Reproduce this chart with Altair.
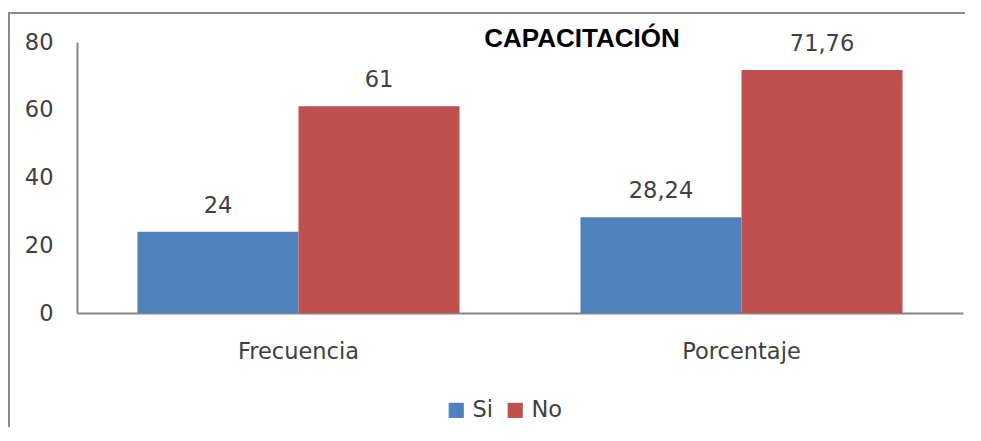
import altair as alt
import pandas as pd

categorias = ["Frecuencia", "Porcentaje"]
series = ["Si", "No"]
valores_si = [24, 28.24]
valores_no = [61, 71.76]
colores = ["#4F81BD", "#C0504D"]
titulo = "CAPACITACIÓN"
y_ticks = [0, 20, 40, 60, 80]

rows = []
for i, c in enumerate(categorias):
    for s, vals in zip(series, [valores_si, valores_no]):
        v = vals[i]
        rows.append({"categoria": c, "serie": s, "valor": v,
                     "etiqueta": f"{v:g}".replace(".", ",")})
df = pd.DataFrame(rows)

FONT = "DejaVu Sans"
FS = 22.5
W, H = 886, 271

base = alt.Chart(df).encode(
    x=alt.X("categoria:N", sort=categorias, title=None,
            scale=alt.Scale(paddingInner=0.273, paddingOuter=0.1365),
            axis=alt.Axis(labelAngle=0, labelPadding=27, ticks=False,
                          domainColor="#868686", domainWidth=2,
                          labelFontSize=FS, labelFont=FONT, labelColor="#404040")),
    xOffset=alt.XOffset("serie:N", sort=series),
)

bars = base.mark_bar().encode(
    y=alt.Y("valor:Q", title=None,
            scale=alt.Scale(domain=[0, 80], nice=False),
            axis=alt.Axis(values=y_ticks, ticks=False, grid=False, labelPadding=24,
                          domainColor="#868686", domainWidth=2,
                          labelFontSize=FS, labelFont=FONT, labelColor="#404040")),
    color=alt.Color("serie:N", sort=series,
                    scale=alt.Scale(domain=series, range=colores),
                    legend=alt.Legend(title=None, orient="none", direction="horizontal",
                                      legendX=368, legendY=357, symbolType="square",
                                      symbolSize=230, symbolStrokeWidth=0,
                                      labelFontSize=FS, labelFont=FONT, labelColor="#404040",
                                      labelOffset=5, columnPadding=10, padding=0)),
)

labels = base.mark_text(baseline="middle", dy=-26, fontSize=FS, font=FONT,
                        color="#404040").encode(
    y=alt.Y("valor:Q"),
    text=alt.Text("etiqueta:N"),
)

one = pd.DataFrame({"a": [0]})
title = alt.Chart(one).mark_text(text=titulo, font="Liberation Sans", fontWeight="bold",
                                 fontSize=26, align="center", baseline="alphabetic",
                                 color="#000000").encode(
    x=alt.value(505), y=alt.value(4.5))

border = alt.Chart(one).mark_rect(fill=None, stroke="#8c8c8c", strokeWidth=2).encode(
    x=alt.value(-68), x2=alt.value(960), y=alt.value(-29), y2=alt.value(460))

chart = alt.layer(border, bars, labels, title).properties(
    width=W, height=H,
    autosize=alt.AutoSizeParams(type="none"),
    padding={"left": 69, "top": 34, "right": 2, "bottom": 114},
    background="white",
).configure_view(stroke=None)

chart.save("out.html", embed_options={"renderer": "svg", "actions": False})
